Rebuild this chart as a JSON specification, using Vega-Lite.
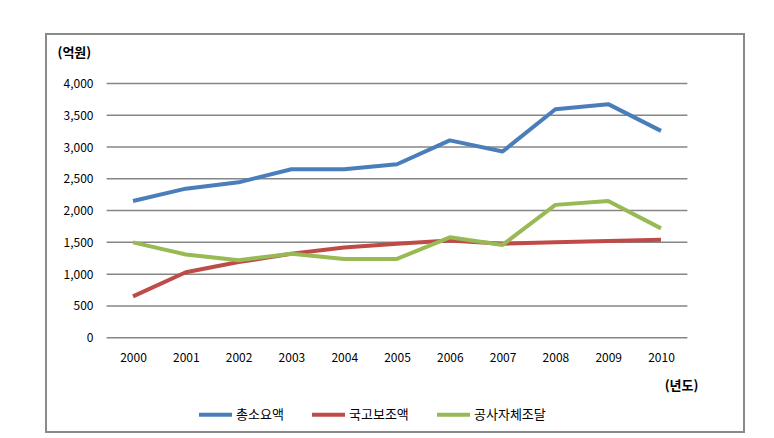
{
  "$schema": "https://vega.github.io/schema/vega-lite/v6.json",
  "width": 698,
  "height": 398,
  "autosize": {"type": "none"},
  "padding": {"left": 46, "top": 34, "right": 30, "bottom": 6},
  "background": "white",
  "config": {
    "font": "Noto Sans CJK KR",
    "view": {"stroke": "#8a8a8a", "strokeWidth": 2}
  },
  "datasets": {
    "series": [
      {"year": 2000, "series": "총소요액", "value": 2150},
      {"year": 2001, "series": "총소요액", "value": 2345},
      {"year": 2002, "series": "총소요액", "value": 2445},
      {"year": 2003, "series": "총소요액", "value": 2650},
      {"year": 2004, "series": "총소요액", "value": 2650},
      {"year": 2005, "series": "총소요액", "value": 2730},
      {"year": 2006, "series": "총소요액", "value": 3105},
      {"year": 2007, "series": "총소요액", "value": 2930},
      {"year": 2008, "series": "총소요액", "value": 3595},
      {"year": 2009, "series": "총소요액", "value": 3675},
      {"year": 2010, "series": "총소요액", "value": 3255},
      {"year": 2000, "series": "국고보조액", "value": 650},
      {"year": 2001, "series": "국고보조액", "value": 1030},
      {"year": 2002, "series": "국고보조액", "value": 1190},
      {"year": 2003, "series": "국고보조액", "value": 1320},
      {"year": 2004, "series": "국고보조액", "value": 1420},
      {"year": 2005, "series": "국고보조액", "value": 1480},
      {"year": 2006, "series": "국고보조액", "value": 1530},
      {"year": 2007, "series": "국고보조액", "value": 1480},
      {"year": 2008, "series": "국고보조액", "value": 1500},
      {"year": 2009, "series": "국고보조액", "value": 1520},
      {"year": 2010, "series": "국고보조액", "value": 1540},
      {"year": 2000, "series": "공사자체조달", "value": 1500},
      {"year": 2001, "series": "공사자체조달", "value": 1310},
      {"year": 2002, "series": "공사자체조달", "value": 1220},
      {"year": 2003, "series": "공사자체조달", "value": 1320},
      {"year": 2004, "series": "공사자체조달", "value": 1240},
      {"year": 2005, "series": "공사자체조달", "value": 1240},
      {"year": 2006, "series": "공사자체조달", "value": 1580},
      {"year": 2007, "series": "공사자체조달", "value": 1460},
      {"year": 2008, "series": "공사자체조달", "value": 2090},
      {"year": 2009, "series": "공사자체조달", "value": 2150},
      {"year": 2010, "series": "공사자체조달", "value": 1720}
    ],
    "grid": [
      {"v": 0}, {"v": 500}, {"v": 1000}, {"v": 1500}, {"v": 2000},
      {"v": 2500}, {"v": 3000}, {"v": 3500}, {"v": 4000}
    ]
  },
  "layer": [
    {
      "data": {"name": "grid"},
      "mark": {"type": "rule", "color": "#868686", "strokeWidth": 1.5},
      "encoding": {
        "y": {"field": "v", "type": "quantitative",
              "scale": {"domain": [-1484, 4779], "nice": false, "zero": false},
              "axis": {
                "values": [0, 500, 1000, 1500, 2000, 2500, 3000, 3500, 4000],
                "format": ",d",
                "grid": false, "domain": false, "ticks": false,
                "offset": -50, "labelPadding": 3,
                "labelFontSize": 12, "labelColor": "#000000",
                "title": "(억원)", "titleAngle": 0, "titleAlign": "left",
                "titleBaseline": "middle", "titleX": -39, "titleY": 18,
                "titleFontSize": 13, "titleFontWeight": "bold", "titleColor": "#000000"
              }},
        "x": {"datum": 1999.5, "type": "quantitative"},
        "x2": {"datum": 2010.5}
      }
    },
    {
      "data": {"name": "series"},
      "mark": {"type": "line", "strokeWidth": 4, "strokeJoin": "round"},
      "encoding": {
        "x": {"field": "year", "type": "quantitative",
              "scale": {"domain": [1998.352, 2011.572], "nice": false, "zero": false},
              "axis": {
                "values": [2000, 2001, 2002, 2003, 2004, 2005, 2006, 2007, 2008, 2009, 2010],
                "format": "d", "grid": false, "domain": false, "ticks": false,
                "offset": -80, "labelPadding": 0,
                "labelFontSize": 12, "labelColor": "#000000",
                "title": "(년도)", "titleX": 635, "titleY": 33,
                "titleAlign": "center", "titleBaseline": "middle",
                "titleFontSize": 13, "titleFontWeight": "bold", "titleColor": "#000000"
              }},
        "y": {"field": "value", "type": "quantitative"},
        "color": {
          "field": "series", "type": "nominal",
          "scale": {"domain": ["총소요액", "국고보조액", "공사자체조달"],
                    "range": ["#4A7EBB", "#BE4B48", "#98B954"]},
          "legend": {
            "title": null, "orient": "none", "direction": "horizontal",
            "legendX": 151, "legendY": 362,
            "symbolType": "stroke", "symbolSize": 1089, "symbolStrokeWidth": 4,
            "labelFontSize": 13, "labelColor": "#000000", "labelOffset": 2,
            "columnPadding": 20
          }
        }
      }
    }
  ]
}
